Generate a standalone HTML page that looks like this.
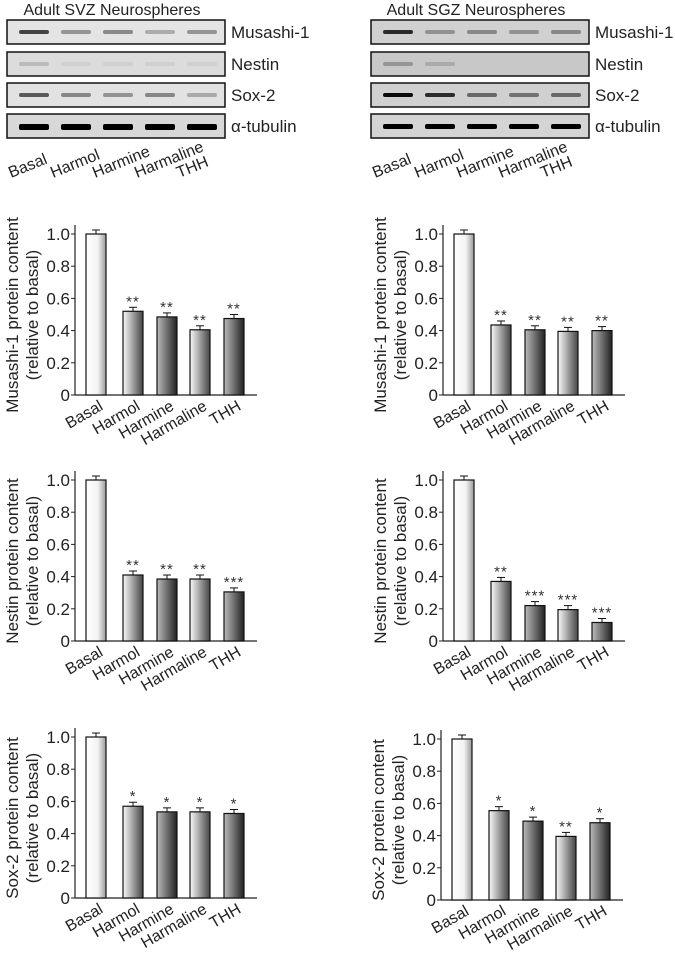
<!DOCTYPE html>
<html><head><meta charset="utf-8"><style>
body{margin:0;background:#fff;}
svg{display:block;font-family:"Liberation Sans","DejaVu Sans",sans-serif;}
</style></head><body>
<svg id="s" width="675" height="956" xmlns="http://www.w3.org/2000/svg">
<defs>
<linearGradient id="g0" x1="0" x2="1"><stop offset="0" stop-color="#fff"/><stop offset="0.6" stop-color="#f2f2f2"/><stop offset="1" stop-color="#999"/></linearGradient>
<linearGradient id="g1" x1="0" x2="1"><stop offset="0" stop-color="#fafafa"/><stop offset="1" stop-color="#444"/></linearGradient>
<linearGradient id="g2" x1="0" x2="1"><stop offset="0" stop-color="#bbb"/><stop offset="1" stop-color="#222"/></linearGradient>
</defs>
</svg>
<script>
var s=document.getElementById('s'),h='';
var names=['Basal','Harmol','Harmine','Harmaline','THH'];
function blot(x0,title,rows){
 h+='<text x="'+(x0+105)+'" y="15" font-size="16" text-anchor="middle" fill="#222">'+title+'</text>';
 var ys=[20,52,83,114],labs=['Musashi-1','Nestin','Sox-2','\u03b1-tubulin'];
 for(var r=0;r<4;r++){
  var y=ys[r];
  h+='<rect x="'+x0+'" y="'+y+'" width="218" height="24" fill="'+rows[r].bg+'" stroke="#111" stroke-width="1.5"/>';
  for(var i=0;i<5;i++){
   var a=rows[r].b[i]; if(a>0) h+='<rect x="'+(x0+12+i*42)+'" y="'+(y+10)+'" width="30" height="'+(rows[r].t||4)+'" rx="2" fill="#000" opacity="'+a+'"/>';
  }
  h+='<text x="'+(x0+224)+'" y="'+(y+18)+'" font-size="17" fill="#222">'+labs[r]+'</text>';
 }
 for(var i=0;i<5;i++){
  var cx=x0+25+i*42;
  h+='<text transform="translate('+(cx-21)+',178) rotate(-22)" font-size="16" fill="#222">'+names[i]+'</text>';
 }
}
blot(7,'Adult SVZ Neurospheres',[
 {bg:'#e4e4e4',b:[.7,.35,.4,.25,.35]},
 {bg:'#dcdcdc',b:[.15,.05,.05,.05,.05]},
 {bg:'#e2e2e2',b:[.6,.4,.35,.4,.25]},
 {bg:'#d8d8d8',b:[1,1,1,1,1],t:6}]);
blot(371,'Adult SGZ Neurospheres',[
 {bg:'#d0d0d0',b:[.8,.3,.35,.3,.35]},
 {bg:'#c8c8c8',b:[.25,.15,0,0,0]},
 {bg:'#d0d0d0',b:[.95,.8,.5,.45,.5]},
 {bg:'#d4d4d4',b:[1,1,1,1,1],t:5}]);
function chart(ax,y0,lab,vals,stars){
 var k=161,bx=[11,48,82,115,149],gr=['g0','g1','g2','g1','g2'];
 h+='<line x1="'+ax+'" y1="'+(y0-170)+'" x2="'+ax+'" y2="'+y0+'" stroke="#222" stroke-width="1.2"/>';
 h+='<line x1="'+ax+'" y1="'+y0+'" x2="'+(ax+182)+'" y2="'+y0+'" stroke="#222" stroke-width="1.2"/>';
 var tl=['0','0.2','0.4','0.6','0.8','1.0'];
 for(var i=0;i<6;i++){var y=y0-i*0.2*k;
  h+='<line x1="'+(ax-4)+'" y1="'+y+'" x2="'+ax+'" y2="'+y+'" stroke="#222"/>';
  h+='<text x="'+(ax-5)+'" y="'+(y+6)+'" font-size="17" text-anchor="end" fill="#222">'+tl[i]+'</text>';}
 h+='<text transform="translate('+(ax-57)+','+(y0-80)+') rotate(-90)" font-size="17" text-anchor="middle" fill="#222">'+lab+' protein content</text>';
 h+='<text transform="translate('+(ax-37)+','+(y0-80)+') rotate(-90)" font-size="17" text-anchor="middle" fill="#222">(relative to basal)</text>';
 for(var i=0;i<5;i++){
  var x=ax+bx[i],v=vals[i],top=y0-v*k,e=4;
  h+='<line x1="'+(x+10)+'" y1="'+top+'" x2="'+(x+10)+'" y2="'+(top-e)+'" stroke="#111"/><line x1="'+(x+6)+'" y1="'+(top-e)+'" x2="'+(x+14)+'" y2="'+(top-e)+'" stroke="#111"/>';
  h+='<rect x="'+x+'" y="'+top+'" width="20" height="'+(v*k)+'" fill="url(#'+gr[i]+')" stroke="#111" stroke-width="1.2"/>';
  if(stars[i]) h+='<text x="'+(x+10)+'" y="'+(top-5)+'" font-size="15" letter-spacing="1" text-anchor="middle" fill="#333">'+stars[i]+'</text>';
  h+='<text transform="translate('+(x+18)+','+(y0+14)+') rotate(-30)" font-size="16" text-anchor="end" fill="#222">'+names[i]+'</text>';
 }
}
chart(75,395,'Musashi-1',[1,.52,.485,.405,.475],['','**','**','**','**']);
chart(443,395,'Musashi-1',[1,.435,.405,.395,.40],['','**','**','**','**']);
chart(75,641,'Nestin',[1,.41,.385,.385,.305],['','**','**','**','***']);
chart(443,641,'Nestin',[1,.37,.22,.195,.115],['','**','***','***','***']);
chart(75,898,'Sox-2',[1,.57,.535,.535,.525],['','*','*','*','*']);
chart(441,900,'Sox-2',[1,.555,.49,.395,.48],['','*','*','**','*']);
s.innerHTML+=h;
</script>
</body></html>
